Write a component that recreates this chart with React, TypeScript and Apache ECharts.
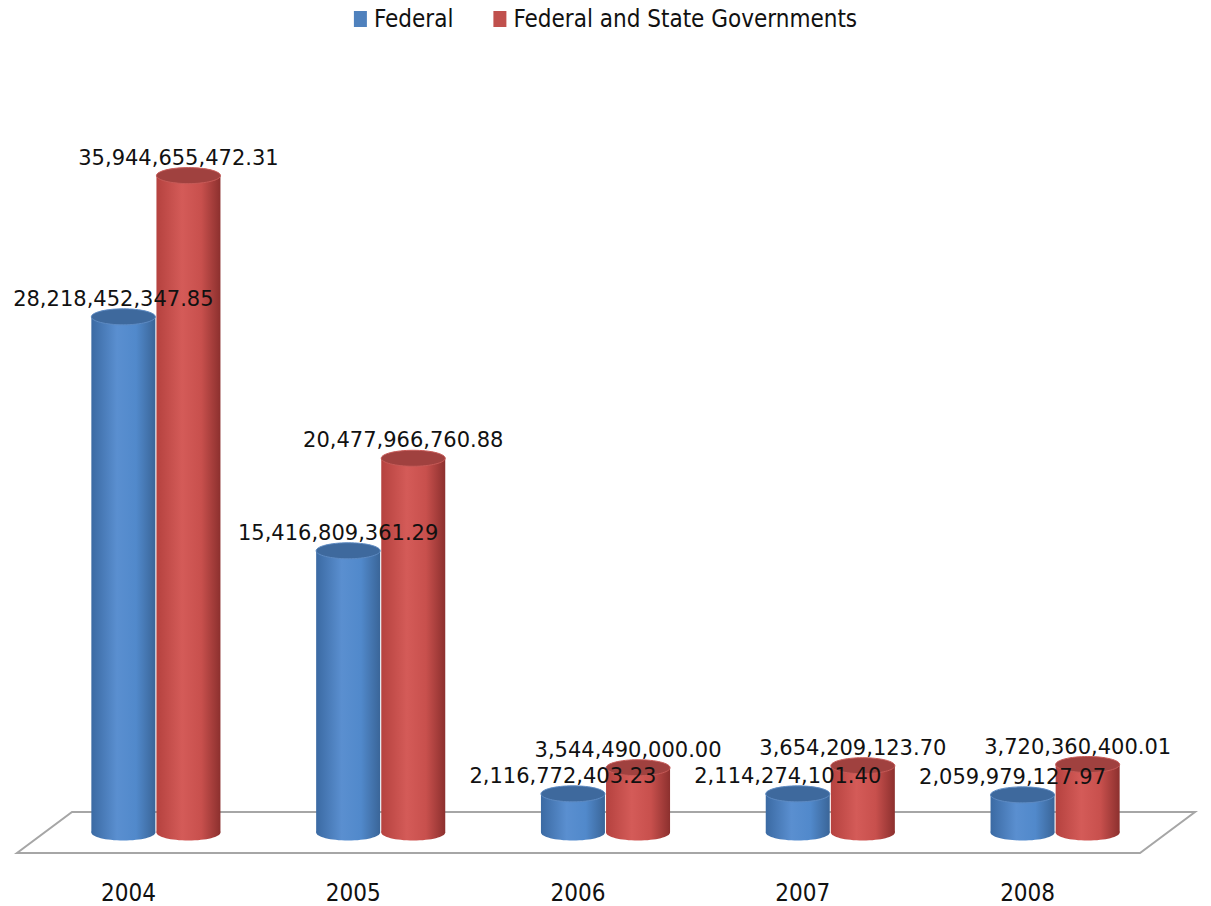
import React, { useEffect, useRef } from "react";
import * as echarts from "echarts";

const categories = ["2004", "2005", "2006", "2007", "2008"];
const federal = [28218452347.85, 15416809361.29, 2116772403.23, 2114274101.4, 2059979127.97];
const federalState = [35944655472.31, 20477966760.88, 3544490000.0, 3654209123.7, 3720360400.01];
const seriesNames = ["Federal", "Federal and State Governments"];

const NARROW = "'Liberation Sans Narrow', 'DejaVu Sans Condensed', 'Liberation Sans', sans-serif";
const LABEL_FONT = "'DejaVu Sans', sans-serif";

const fmt = (v: number) =>
  v.toLocaleString("en-US", { minimumFractionDigits: 2, maximumFractionDigits: 2 });

const palettes = [
  {
    base: "#4F81BD",
    body: ["#3B6AA3", "#5A8FD0", "#5189CB", "#3A6598"],
    top: "#3E699D",
    topEdge: "#5D8AC2",
  },
  {
    base: "#C0504D",
    body: ["#B5423F", "#D45B58", "#C8504D", "#8C302E"],
    top: "#A0413F",
    topEdge: "#C65A57",
  },
];

const DEPTH_X = 27.5;
const DEPTH_Y = 20.5;

function cylinder(sIdx: number) {
  const pal = palettes[sIdx];
  const sign = sIdx === 0 ? -1 : 1;
  return (params: any, api: any) => {
    const i = api.value(0);
    const v = api.value(1);
    const base = api.coord([i, 0]);
    const top = api.coord([i, v]);
    const band = api.size([1, 0])[0];
    const cx = base[0] + sign * band * 0.1448 + DEPTH_X;
    const by = base[1] - DEPTH_Y;
    const ty = top[1] - DEPTH_Y;
    const rx = 32;
    const ry = 8;
    const grad = {
      type: "linear",
      x: 0,
      y: 0,
      x2: 1,
      y2: 0,
      colorStops: [
        { offset: 0, color: pal.body[0] },
        { offset: 0.4, color: pal.body[1] },
        { offset: 0.7, color: pal.body[2] },
        { offset: 1, color: pal.body[3] },
      ],
    };
    return {
      type: "group",
      children: [
        { type: "ellipse", shape: { cx, cy: by, rx, ry }, style: { fill: grad } },
        { type: "rect", shape: { x: cx - rx, y: ty, width: rx * 2, height: by - ty }, style: { fill: grad } },
        {
          type: "ellipse",
          shape: { cx, cy: ty, rx, ry },
          style: { fill: pal.top, stroke: pal.topEdge, lineWidth: 1 },
        },
      ],
    };
  };
}

function labeler(sIdx: number) {
  const sign = sIdx === 0 ? -1 : 1;
  const values = sIdx === 0 ? federal : federalState;
  return (params: any, api: any) => {
    const i = api.value(0);
    const v = api.value(1);
    const base = api.coord([i, 0]);
    const top = api.coord([i, v]);
    const band = api.size([1, 0])[0];
    const cx = base[0] + sign * band * 0.1448 + DEPTH_X;
    const ty = top[1] - DEPTH_Y;
    return {
      type: "text",
      x: cx - 10,
      y: ty - 18,
      style: {
        text: fmt(values[params.dataIndex]),
        fill: "#111111",
        font: `21px ${LABEL_FONT}`,
        align: "center",
        verticalAlign: "middle",
      },
    };
  };
}

export default function App() {
  const ref = useRef<HTMLDivElement>(null);
  useEffect(() => {
    if (!ref.current) return;
    const chart = echarts.init(ref.current, undefined, { renderer: "svg" });
    const d0 = federal.map((v, i) => [i, v]);
    const d1 = federalState.map((v, i) => [i, v]);
    chart.setOption({
      animation: false,
      backgroundColor: "#ffffff",
      legend: {
        data: seriesNames,
        top: 2,
        left: "center",
        icon: "rect",
        itemWidth: 13,
        itemHeight: 16,
        itemGap: 40,
        textStyle: { fontFamily: NARROW, fontSize: 24, color: "#111", padding: [0, 0, 0, 2] },
      },
      grid: { left: 16, right: 71, top: 122, bottom: 53, containLabel: false },
      xAxis: {
        type: "category",
        data: categories,
        axisLine: { show: false },
        axisTick: { show: false },
        axisLabel: {
          fontFamily: NARROW,
          fontSize: 24,
          lineHeight: 20,
          color: "#111",
          margin: 30,
        },
      },
      yAxis: {
        type: "value",
        min: 0,
        max: 40e9,
        show: false,
        splitLine: { show: false },
      },
      graphic: [
        {
          type: "polygon",
          z: -10,
          shape: { points: [[72, 812], [1195, 812], [1140, 853], [17, 853]] },
          style: { fill: "#ffffff", stroke: "#A6A6A6", lineWidth: 2 },
        },
      ],
      series: [
        {
          name: seriesNames[0],
          type: "custom",
          renderItem: cylinder(0),
          data: d0,
          itemStyle: { color: palettes[0].base },
          z: 2,
        },
        {
          name: seriesNames[1],
          type: "custom",
          renderItem: cylinder(1),
          data: d1,
          itemStyle: { color: palettes[1].base },
          z: 3,
        },
        { name: "lbl0", type: "custom", renderItem: labeler(0), data: d0, z: 5, silent: true },
        { name: "lbl1", type: "custom", renderItem: labeler(1), data: d1, z: 5, silent: true },
      ],
    });
    return () => chart.dispose();
  }, []);
  return (
    <div
      ref={ref}
      style={{ position: "fixed", left: 0, top: 0, width: 1211, height: 906 }}
    />
  );
}
